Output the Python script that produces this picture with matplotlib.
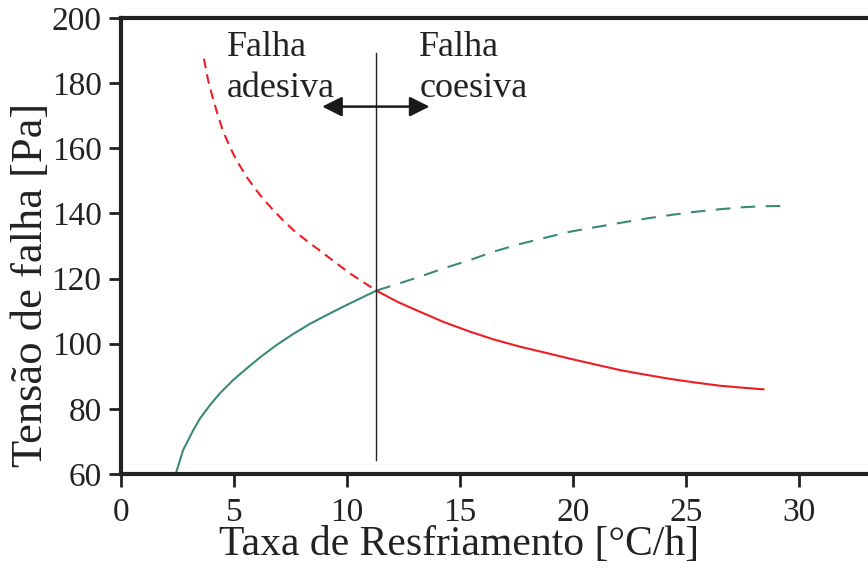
import matplotlib
matplotlib.use("Agg")
import matplotlib.pyplot as plt
import numpy as np

plt.rcParams['font.family'] = ['Liberation Serif', 'DejaVu Serif']

# curva verde (falha coesiva) - parte continua e tracejada
verde_x = [2.43, 2.75, 3.20, 3.50, 3.94, 4.38, 4.97, 5.56, 6.15, 6.88, 7.62,
           8.36, 9.10, 9.84, 10.58, 11.30]
verde_y = [60.2, 67.4, 73.5, 77.1, 81.2, 84.8, 88.9, 92.4, 95.8, 99.6, 103.0,
           106.1, 108.8, 111.4, 113.9, 116.3]
verde_tr_x = [11.30, 12.3, 13.23, 14.3, 15.44, 16.5, 17.65, 18.8, 19.87, 21.0,
              22.08, 23.2, 24.29, 25.4, 26.5, 27.5, 28.4, 29.4]
verde_tr_y = [116.3, 118.5, 120.6, 123.2, 125.7, 128.3, 130.6, 132.6, 134.4,
              135.8, 137.1, 138.4, 139.5, 140.5, 141.3, 141.9, 142.2, 142.3]

# curva vermelha (falha adesiva)
verm_tr_x = [3.67, 3.85, 4.08, 4.30, 4.52, 4.75, 5.0, 5.27, 5.6, 6.0, 6.35,
             6.74, 7.25, 7.77, 8.35, 8.95, 9.55, 10.13, 10.7, 11.30]
verm_tr_y = [187.5, 181.0, 175.0, 169.8, 165.2, 161.5, 157.8, 154.5, 150.8,
             147.0, 144.0, 141.0, 137.3, 134.0, 130.9, 127.8, 124.6, 121.6,
             119.0, 116.3]
verm_x = [11.30, 12.25, 13.23, 14.3, 15.44, 16.5, 17.65, 18.8, 19.87, 21.0,
          22.08, 23.2, 24.29, 25.4, 26.5, 27.5, 28.42]
verm_y = [116.3, 112.8, 109.8, 106.6, 103.7, 101.3, 99.1, 97.2, 95.4, 93.6,
          91.9, 90.5, 89.2, 88.1, 87.1, 86.5, 86.0]

x_ticks = [0, 5, 10, 15, 20, 25, 30]
y_ticks = [60, 80, 100, 120, 140, 160, 180, 200]

verde = '#3a8a78'
vermelho = '#ee1c25'

fig = plt.figure(figsize=(8.68, 5.70), dpi=100)
ax = fig.add_axes([0.1394, 0.1684, 0.8606, 0.8])

ax.plot(verde_x, verde_y, color=verde, lw=1.5)
ax.plot(verde_tr_x, verde_tr_y, color=verde, lw=1.5, dashes=[7, 5])
ax.plot(verm_tr_x, verm_tr_y, color=vermelho, lw=1.5, dashes=[4.6, 3])
ax.plot(verm_x, verm_y, color=vermelho, lw=1.5)

# linha vertical de transicao
ax.plot([11.3, 11.3], [64.3, 189.3], color='#222222', lw=1.0)

# setas
for destino in [8.9, 13.65]:
    ax.annotate('', xy=(destino, 172.8), xytext=(11.3, 172.8),
                arrowprops=dict(arrowstyle='-|>,head_length=0.6,head_width=0.3',
                                color='#1a1a1a', lw=1.8,
                                mutation_scale=20, shrinkA=0, shrinkB=0))

ax.text(4.7, 196.0, 'Falha\nadesiva', fontsize=26, va='top', ha='left',
        color='#222222', linespacing=1.3)
ax.text(13.2, 196.0, 'Falha\ncoesiva', fontsize=26, va='top', ha='left',
        color='#222222', linespacing=1.3)

ax.set_xlim(0, 33.05)
ax.set_ylim(60, 200)
ax.set_xticks(x_ticks)
ax.set_yticks(y_ticks)
ax.tick_params(axis='both', labelsize=24, width=2, length=9, direction='out',
               colors='#222222')
ax.tick_params(axis='x', pad=8)
ax.tick_params(axis='y', pad=5)

ax.spines['right'].set_visible(False)
for s in ['left', 'bottom', 'top']:
    ax.spines[s].set_linewidth(3)
    ax.spines[s].set_color('#222222')

ax.set_xlabel('Taxa de Resfriamento [°C/h]', fontsize=30, color='#222222')
ax.set_ylabel('Tensão de falha [Pa]', fontsize=32, color='#222222')
ax.xaxis.set_label_coords(0.4525, -0.114, transform=ax.transAxes)
ax.yaxis.set_label_coords(-0.094, 0.414, transform=ax.transAxes)

fig.savefig('out.png', dpi=100)
